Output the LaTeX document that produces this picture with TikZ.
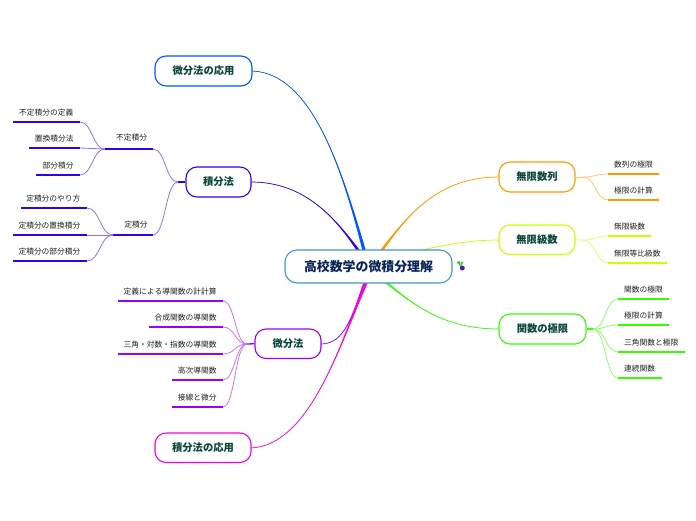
\documentclass[tikz,border=0pt]{standalone}
\usepackage{fontspec}
\setmainfont{Noto Sans CJK JP}
\usetikzlibrary{calc}
\definecolor{cblue}{HTML}{0055FF}
\definecolor{cindigo}{HTML}{3300EE}
\definecolor{cpurple}{HTML}{9900FF}
\definecolor{cmag}{HTML}{FF00DD}
\definecolor{corange}{HTML}{FF9900}
\definecolor{cyel}{HTML}{CCFF00}
\definecolor{cgreen}{HTML}{33FF00}
\definecolor{croot}{HTML}{3F94D2}
\definecolor{troot}{HTML}{0A2458}
\definecolor{tmain}{HTML}{0A463A}
\definecolor{tleaf}{HTML}{222222}
\tikzset{
  x=1pt,y=-1pt,
  mainbox/.style={draw=#1,line width=1.1pt,fill=white,rounded corners=11pt,inner sep=0pt,
    text=tmain,font=\fontsize{10.3}{12}\selectfont\bfseries,anchor=center},
  rootbox/.style={draw=#1,line width=1.1pt,fill=white,rounded corners=12pt,inner sep=0pt,
    text=troot,font=\fontsize{12.9}{15}\selectfont\bfseries,anchor=center},
  leaftext/.style={text=tleaf,font=\fontsize{7.75}{9}\selectfont,inner sep=0pt},
  leafline/.style={draw=#1,line width=2pt},
  thinlink/.style={draw=#1!55,line width=0.8pt},
  stem/.style={draw=#1,line width=1.3pt}
}
% main box: name, color, x1, y1, x2, y2, text
\newcommand{\mainnode}[7]{\node[mainbox=#2,minimum width=#5-#3,minimum height=#6-#4] (#1) at ({(#3+#5)/2},{(#4+#6)/2}) {\raisebox{-1.6pt}{#7}};}
% leaf: name, color, xl, xr, y, text
\newcommand{\leafL}[6]{%
  \coordinate (#1l) at (#3,#5);\coordinate (#1r) at (#4,#5);
  \draw[leafline=#2] (#1l) -- (#1r);
  \node[leaftext,anchor=east] (#1) at (#4-6.3,#5-9.8) {#6};}
\newcommand{\leafR}[6]{%
  \coordinate (#1l) at (#3,#5);\coordinate (#1r) at (#4,#5);
  \draw[leafline=#2] (#1l) -- (#1r);
  \node[leaftext,anchor=west] (#1) at (#3+6,#5-9.8) {#6};}
% tapered connector: color, node anchor, c1, c2, root point
\newcommand{\taper}[5]{%
  \fill[#1] ($(#5)+(-1.7,0)$) .. controls #4 and #3 .. (#2) .. controls #3 and #4 .. ($(#5)+(1.7,0)$) -- cycle;
  \draw[#1,line width=0.7pt] (#5) .. controls #4 and #3 .. (#2);}
% S-shaped thin link
\newcommand{\link}[3]{%
  \coordinate (tmpm) at ($(#2)!0.5!(#3)$);
  \draw[thinlink=#1] (#2) .. controls (tmpm|-#2) and (tmpm|-#3) .. (#3);}
\begin{document}
\begin{tikzpicture}
\useasboundingbox (0,0) rectangle (696,520);
\fill[white] (0,0) rectangle (696,520);

% root ends of the connectors
\coordinate (rA) at (364,250);
\coordinate (rB) at (358,250);
\coordinate (rC) at (365,283);
\coordinate (rD) at (366,283);
\coordinate (rE) at (382,250);
\coordinate (rF) at (422,250);
\coordinate (rG) at (387,283);

% main connectors
\coordinate (eApp) at (252,71);
\coordinate (eInt) at (251,182);
\coordinate (eDif) at (321,344);
\coordinate (eIA) at (251,448);
\coordinate (eSeq) at (499,177);
\coordinate (eSer) at (499,240);
\coordinate (eLim) at (499,329);
\taper{cblue}{eApp}{(312,73)}{(342,170)}{rA}
\taper{cindigo}{eInt}{(305,182)}{(335,218)}{rB}
\taper{cpurple}{eDif}{(345,344)}{(352,315)}{rC}
\taper{cmag}{eIA}{(310,445)}{(340,345)}{rD}
\taper{corange}{eSeq}{(440,177)}{(410,212)}{rE}
\taper{cyel}{eSer}{(470,240)}{(445,245)}{rF}
\taper{cgreen}{eLim}{(445,329)}{(415,306)}{rG}

% main nodes
\node[rootbox=croot,minimum width=167pt,minimum height=33pt] (root) at (368.5,266.5) {\raisebox{-0.5pt}{高校数学の微積分理解}};
\mainnode{app}{cblue}{155}{56}{252}{86}{微分法の応用}
\mainnode{int}{cindigo}{186}{167}{251}{197}{積分法}
\mainnode{dif}{cpurple}{255}{329}{321}{358.5}{微分法}
\mainnode{ia}{cmag}{155}{433}{251}{462.5}{積分法の応用}
\mainnode{seq}{corange}{499}{162}{575}{192}{無限数列}
\mainnode{ser}{cyel}{499}{225}{575}{254.5}{無限級数}
\mainnode{lim}{cgreen}{499}{314}{586}{344}{関数の極限}

% icon beside root
\fill[green!55!black!70] (461,267) -- (456.5,262) -- (459.5,261) -- cycle;
\fill[green!60!gray] (461,267) -- (463.5,261.5) -- (460.5,262) -- cycle;
\fill[blue!50!violet!75!gray] (462.3,268) circle (2.5);

% integral branch
\leafL{uInt}{cindigo}{110}{153}{149}{}
\node[leaftext] (uIntT) at (131.5,138) {不定積分};
\leafL{dInt}{cindigo}{118}{153}{235}{}
\node[leaftext] (dIntT) at (136,224.5) {定積分};
\coordinate (jInt) at (178,182);
\draw[stem=cindigo] (jInt) -- (int.west);
\link{cindigo}{uIntr}{jInt}
\link{cindigo}{dIntr}{jInt}

\leafL{a1}{cindigo}{13}{80}{122}{不定積分の定義}
\leafL{a2}{cindigo}{29}{80}{148}{置換積分法}
\leafL{a3}{cindigo}{36}{80}{175}{部分積分}
\coordinate (jU) at (105,149);
\draw[thinlink=cindigo] (a2r) -- (jU);
\draw[stem=cindigo] (jU) -- (uIntl);
\link{cindigo}{a1r}{jU}
\link{cindigo}{a3r}{jU}

\leafL{b1}{cindigo}{21}{87}{208}{定積分のやり方}
\leafL{b2}{cindigo}{13}{87}{235}{定積分の置換積分}
\leafL{b3}{cindigo}{13}{87}{261}{定積分の部分積分}
\coordinate (jD) at (113,235);
\draw[thinlink=cindigo] (b2r) -- (jD);
\draw[stem=cindigo] (jD) -- (dIntl);
\link{cindigo}{b1r}{jD}
\link{cindigo}{b3r}{jD}

% differential branch
\leafL{c1}{cpurple}{118}{223}{301}{定義による導関数の計計算}
\leafL{c2}{cpurple}{149}{223}{327}{合成関数の導関数}
\leafL{c3}{cpurple}{118}{223}{354}{三角・対数・指数の導関数}
\leafL{c4}{cpurple}{172}{223}{380}{高次導関数}
\leafL{c5}{cpurple}{172}{223}{407}{接線と微分}
\coordinate (jC) at (247,344);
\draw[stem=cpurple] (jC) -- (dif.west);
\foreach \n in {c1,c2,c3,c4,c5} {\link{cpurple}{\n r}{jC}}

% right branches
\leafR{d1}{corange}{608}{659}{174}{数列の極限}
\leafR{d2}{corange}{608}{659}{200}{極限の計算}
\coordinate (jS) at (583,177);
\draw[thinlink=corange] (seq.east) -- (jS);
\link{corange}{jS}{d1l}
\link{corange}{jS}{d2l}

\leafR{e1}{cyel}{608}{651}{236}{無限級数}
\leafR{e2}{cyel}{608}{667}{263}{無限等比級数}
\coordinate (jE) at (583,240);
\draw[thinlink=cyel] (ser.east) -- (jE);
\link{cyel}{jE}{e1l}
\link{cyel}{jE}{e2l}

\leafR{f1}{cgreen}{618}{669}{299}{関数の極限}
\leafR{f2}{cgreen}{618}{669}{325}{極限の計算}
\leafR{f3}{cgreen}{618}{685}{352}{三角関数と極限}
\leafR{f4}{cgreen}{618}{662}{378}{連続関数}
\coordinate (jF) at (593,329);
\draw[stem=cgreen] (lim.east) -- (jF);
\foreach \n in {f1,f2,f3,f4} {\link{cgreen}{jF}{\n l}}
\end{tikzpicture}
\end{document}
